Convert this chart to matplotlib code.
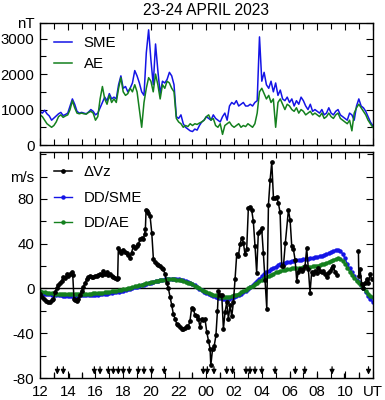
import numpy as np
import matplotlib
matplotlib.use('Agg')
import matplotlib.pyplot as plt
from matplotlib.ticker import MultipleLocator

plt.rcParams['font.family'] = ['Liberation Sans', 'DejaVu Sans']
plt.rcParams['font.size'] = 10.8

# 10-min samples, 12 UT (23 Apr) to 12 UT (24 Apr)
t10 = 12 + np.arange(145) / 6.0

sme = [950, 900, 980, 880, 820, 700,
       760, 820, 880, 920, 830, 860,
       900, 1100, 1300, 1150, 950, 900,
       920, 900, 880, 930, 1000, 950,
       850, 900, 1050, 1200, 1350, 1250,
       1450, 1300, 1350, 1300, 1700, 1950,
       1600, 1650, 1500, 1600, 1750, 2100,
       1950, 1750, 1500, 1400, 2600, 3250,
       2400, 1700, 2850, 2100, 1450, 1800,
       1750, 1850, 2050, 1950, 1700, 800,
       750, 850, 600, 500, 450, 400,
       380, 450, 420, 550, 650, 700,
       800, 750, 700, 850, 750, 700,
       650, 800, 900, 700, 1100, 1200,
       1150, 1250, 1100, 1150, 1200, 1100,
       1100, 1150, 1100, 1200, 1250, 3050,
       1800, 2050, 1700, 1600, 1800, 1500,
       1750, 1400, 1550, 1300, 1250, 1350,
       1200, 1300, 1100, 1250, 1150, 1350,
       1250, 1100, 1000, 1150, 950, 1000,
       950, 900, 1000, 850, 900, 1050,
       900, 850, 950, 1000, 850, 800,
       750, 700, 900, 850, 700, 1100,
       1300, 1100, 1050, 950, 800, 650,
       550]

ae = [850, 800, 700, 600, 550, 500,
      550, 650, 800, 850, 780, 820,
      850, 1000, 1250, 1050, 900, 880,
      900, 880, 870, 920, 950, 900,
      700, 800, 1300, 1650, 1300, 1150,
      1400, 1200, 1300, 1200, 1600, 1900,
      1500, 1400, 1450, 1600, 1500, 1700,
      1500, 1000, 500, 1200, 1600, 1900,
      1800, 1500, 2000, 1700, 1300, 1700,
      1600, 1800, 1750, 1600, 1500, 750,
      650, 600, 500, 550, 520, 600,
      550, 600, 580, 620, 650, 700,
      800, 850, 700, 750, 550, 500,
      600, 300, 550, 600, 650, 550,
      500, 550, 600, 500, 550, 520,
      600, 550, 500, 600, 900, 1500,
      1600, 1450, 1300, 1400, 1200, 1300,
      500, 1200, 1300, 1150, 1000, 1150,
      1100, 1000, 950, 1050, 900, 1000,
      950, 850, 900, 950, 850, 900,
      850, 800, 900, 750, 800, 900,
      800, 750, 850, 900, 750, 700,
      650, 600, 700, 400, 900, 1050,
      1150, 1050, 950, 850, 700, 600,
      500]

dd_sme = [-3.5, -4.0, -4.5, -5.0, -5.3, -5.6,
          -5.8, -6.0, -6.1, -6.2, -6.3, -6.3,
          -6.3, -6.3, -6.3, -6.3, -6.3, -6.2,
          -6.2, -6.2, -6.1, -6.0, -5.9, -5.8,
          -5.7, -5.5, -5.3, -5.1, -4.8, -4.5,
          -4.2, -3.9, -3.5, -3.1, -2.7, -2.2,
          -1.8, -1.3, -0.8, -0.2, 0.4, 1.0,
          1.6, 2.2, 2.8, 3.4, 4.0, 4.6,
          5.2, 5.8, 6.4, 6.9, 7.4, 7.9,
          8.3, 8.6, 8.8, 8.9, 8.9, 8.7,
          8.4, 7.9, 7.3, 6.6, 5.8, 5.0,
          4.0, 2.7, 1.2, -0.2, -1.5, -2.7,
          -3.8, -4.8, -5.8, -6.7, -7.5, -8.2,
          -8.8, -9.3, -9.5, -9.5, -9.2, -8.7,
          -8.0, -7.1, -6.0, -4.8, -3.5, -2.0,
          -0.4, 1.2, 3.0, 4.9, 6.9, 8.9,
          10.8, 12.6, 14.3, 15.8, 17.2, 18.5,
          19.6, 20.6, 21.5, 22.3, 23.0, 23.6,
          24.1, 24.5, 24.9, 25.2, 25.5, 25.8,
          26.1, 26.4, 26.7, 27.0, 27.4, 27.8,
          28.3, 28.8, 29.4, 30.0, 30.7, 31.4,
          32.2, 33.4, 34.6, 34.8, 33.5, 31.0,
          27.0, 22.0, 18.0, 14.5, 11.0, 8.0,
          5.5, 3.0, 0.0, -3.0, -6.5, -9.5,
          -12.0]

dd_ae = [-2.5, -3.0, -3.4, -3.8, -4.1, -4.3,
         -4.5, -4.7, -4.8, -4.9, -5.0, -5.0,
         -5.0, -5.0, -5.0, -5.0, -5.0, -4.9,
         -4.9, -4.8, -4.7, -4.6, -4.5, -4.4,
         -4.3, -4.1, -3.9, -3.7, -3.5, -3.2,
         -2.9, -2.6, -2.3, -1.9, -1.5, -1.1,
         -0.7, -0.2, 0.3, 0.8, 1.3, 1.9,
         2.4, 2.9, 3.5, 4.0, 4.6, 5.1,
         5.6, 6.1, 6.6, 7.0, 7.4, 7.7,
         8.0, 8.2, 8.3, 8.3, 8.2, 8.0,
         7.7, 7.2, 6.7, 6.0, 5.3, 4.5,
         3.6, 2.5, 1.3, 0.1, -1.0, -2.0,
         -3.0, -3.9, -4.8, -5.5, -6.2, -6.8,
         -7.2, -7.5, -7.6, -7.5, -7.2, -6.8,
         -6.2, -5.4, -4.5, -3.5, -2.4, -1.2,
         0.0, 1.3, 2.6, 3.9, 5.2, 6.5,
         7.8, 9.0, 10.2, 11.3, 12.4, 13.4,
         14.3, 15.1, 15.8, 16.4, 16.9, 17.3,
         17.6, 17.9, 18.1, 18.3, 18.5, 18.6,
         18.8, 19.0, 19.2, 19.4, 19.7, 20.0,
         20.4, 20.9, 21.5, 22.2, 23.0, 23.9,
         24.8, 25.7, 26.6, 27.1, 26.8, 25.0,
         22.0, 18.5, 15.0, 12.0, 9.5, 7.0,
         5.0, 3.0, 0.5, -2.0, -4.5, -6.5,
         -8.0]

dvz_hours = [12.00, 12.12, 12.25, 12.40, 12.55, 12.72, 12.85, 12.97, 13.10, 13.20,
             13.32, 13.44, 13.56, 13.68, 13.80, 13.92, 14.05, 14.15, 14.28, 14.36,
             14.45, 14.55, 14.65, 14.77, 14.89, 15.00, 15.13, 15.25, 15.37, 15.48,
             15.60, 15.72, 15.85, 15.97, 16.10, 16.20, 16.33, 16.45, 16.57, 16.69,
             16.81, 16.93, 17.05, 17.17, 17.30, 17.42, 17.53, 17.60, 17.65, 17.75,
             17.87, 17.99, 18.10, 18.25, 18.38, 18.50, 18.60, 18.74, 18.86, 18.98,
             19.10, 19.22, 19.34, 19.45, 19.55, 19.60, 19.65, 19.72, 19.82, 19.94,
             20.06, 20.18, 20.30, 20.42, 20.54, 20.66, 20.78, 20.90, 21.02, 21.14,
             21.26, 21.38, 21.50, 21.62, 21.74, 21.86, 21.98, 22.10, 22.22, 22.34,
             22.46, 22.58, 22.70, 22.82, 22.94, 23.06, 23.18, 23.30, 23.42, 23.54,
             23.66, 23.78, 23.90, 24.03, 24.15, 24.27, 24.32, 24.45, 24.57, 24.69,
             24.80, 24.87, 24.99, 25.11, 25.23, 25.35, 25.47, 25.59, 25.71, 25.83,
             25.95, 26.07, 26.19, 26.31, 26.43, 26.55, 26.67, 26.79, 26.91, 27.03,
             27.12, 27.27, 27.39, 27.51, 27.63, 27.75, 27.87, 27.99, 28.11, 28.23,
             28.36, 28.48, 28.60, 28.72, 28.84, 28.96, 29.08, 29.20, 29.32, 29.44,
             29.56, 29.70, 29.92, 30.04, 30.16, 30.28, 30.40, 30.52, 30.64, 30.76,
             30.88, 31.00, 31.12, 31.24, 31.36, 31.48, 31.60, 31.72, 31.84, 31.96,
             32.08, 32.20, 32.32, 32.44, 32.56, 32.68, 32.80, 32.92, 33.04, 33.16,
             33.28, 33.40, 34.50, 34.97, 35.00, 35.09, 35.21, 35.33, 35.45, 35.57,
             35.69, 35.81, 35.93]

dvz = [-5, -8, -9.5, -11, -12, -12.5, -10, -9.5, -3, 0,
       3, 5.3, 7, 10, 9, 12.7, 11, 13, 15, 12,
       -9.5, -10, -11, -9, -6, -2, 1.5, 5, 8.3, 10,
       11.3, 10, 10, 11, 11.3, 12, 13, 12, 16, 13,
       14.5, 12, 13, 11, 10, 9, 8.3, 9, 36.4, 33.4,
       32, 34.8, 33, 31.9, 30, 27.5, 32, 37.9, 36.4, 38,
       40, 43.8, 45.3, 44, 49, 53, 70, 69, 67.5, 64.6,
       50, 26, 24, 21.6, 21, 20.1, 18.6, 17, 12.7, 5.3,
       0, -7.3, -14.8, -22.8, -27, -31.5, -33, -34.5, -36, -36.2,
       -35, -33.2, -34, -28.7, -17, -18, -24, -25, -27, -34.5,
       -27, -28, -27, -39, -46.6, -54, -68.8, -54, -51, -42,
       -20, -2, -6, -6, -36, -21, -12.5, -27, -15, -25,
       -12.5, 8.3, 30.5, 29, 39.4, 45.3, 41, 30.5, 35, 72,
       73, 70, 60, 38, 14, 50, 51, 54, 32, 8,
       -18, 75, 97, 113, 81, 81, 82, 76, 68, 20,
       20, 41, 70, 61.6, 38, 35, 25.8, 7, 15, 17,
       16, 17, 20, 36, 17, -3.6, 15, 13, 16, 14.2,
       18, 16, 15, 16, 13, 10, 14, 16, 18, 20,
       15, 12, np.nan, 33.4, 11, 17, 3.8, 0, 5, 8.3,
       5, 12.7, 8.3]

# event markers along the bottom of the lower panel
arrow_hours = [13.25, 13.68, 15.92, 16.33, 16.93, 17.29, 17.65, 18.01, 18.44,
               19.09, 19.50, 20.06, 20.97, 23.78, 24.07, 24.55, 25.47, 25.89,
               26.86, 27.15, 27.51, 28.00, 28.96, 30.42, 31.10, 33.07, 35.70]
tick_hours = [13.0, 14.07, 15.05, 22.05, 23.0, 24.99, 30.0, 32.0, 33.9, 35.0]

xticks = np.arange(12, 37, 2)
xlabels = ['12', '14', '16', '18', '20', '22', '00', '02', '04', '06', '08', '10', 'UT']

blue = '#1414e6'
green = '#14801e'

fig = plt.figure(figsize=(3.85, 4.0), dpi=100)
ax1 = fig.add_axes([0.104, 0.6375, 0.864, 0.3057])
ax2 = fig.add_axes([0.104, 0.055, 0.864, 0.565])

# --- top panel: SME / AE
ax1.plot(t10, sme, color=blue, lw=1.1, label='SME')
ax1.plot(t10, ae, color=green, lw=1.1, label='AE')
ax1.set_xlim(12, 36)
ax1.set_ylim(0, 3450)
ax1.set_yticks([0, 1000, 2000, 3000, 3450])
ax1.set_yticklabels(['0', '1000', '2000', '3000', 'nT'])
ax1.yaxis.set_minor_locator(MultipleLocator(500))
ax1.set_xticks(xticks)
ax1.set_xticklabels([])
ax1.set_title('23-24 APRIL 2023', fontsize=11.2, pad=5.5)
ax1.legend(loc='upper left', frameon=False, handlelength=1.2, handletextpad=0.8,
           labelspacing=0.45)

# --- bottom panel: dVz and model curves
ax2.axhline(0, color='k', lw=1)
ax2.plot(t10, dd_sme, color=blue, lw=1, marker='o', ms=2.2, label='DD/SME')
ax2.plot(t10, dd_ae, color=green, lw=1, marker='o', ms=2.2, label='DD/AE')
ax2.plot(dvz_hours, dvz, color='k', lw=1.1, marker='o', ms=2.4, label='ΔVz')

for h in arrow_hours:
    ax2.annotate('', xy=(h, -79.5), xytext=(h, -67.5),
                 arrowprops=dict(arrowstyle='-|>', color='k', lw=0.9, mutation_scale=7))
ax2.vlines(tick_hours, -80, -75.5, color='k', lw=0.9)

ax2.set_xlim(12, 36)
ax2.set_ylim(-80, 122)
ax2.set_yticks([-80, -40, 0, 40, 80, 100])
ax2.set_yticklabels(['-80', '-40', '0', '40', '80', 'm/s'])
ax2.yaxis.set_minor_locator(MultipleLocator(20))
ax2.set_xticks(xticks)
ax2.set_xticklabels(xlabels)

handles, labels = ax2.get_legend_handles_labels()
order = [2, 0, 1]
ax2.legend([handles[i] for i in order], [labels[i] for i in order],
           loc='upper left', frameon=False, handlelength=1.2, handletextpad=0.8,
           labelspacing=0.75)

for ax in (ax1, ax2):
    ax.xaxis.set_minor_locator(MultipleLocator(1))
    ax.tick_params(which='both', direction='in', top=True, right=True, width=0.8)
    ax.tick_params(which='major', length=5)
    ax.tick_params(which='minor', length=4)
    ax.tick_params(axis='y', pad=4)
    ax.tick_params(axis='x', pad=5)
    for s in ax.spines.values():
        s.set_linewidth(1.0)

fig.savefig('out.png', dpi=100)
